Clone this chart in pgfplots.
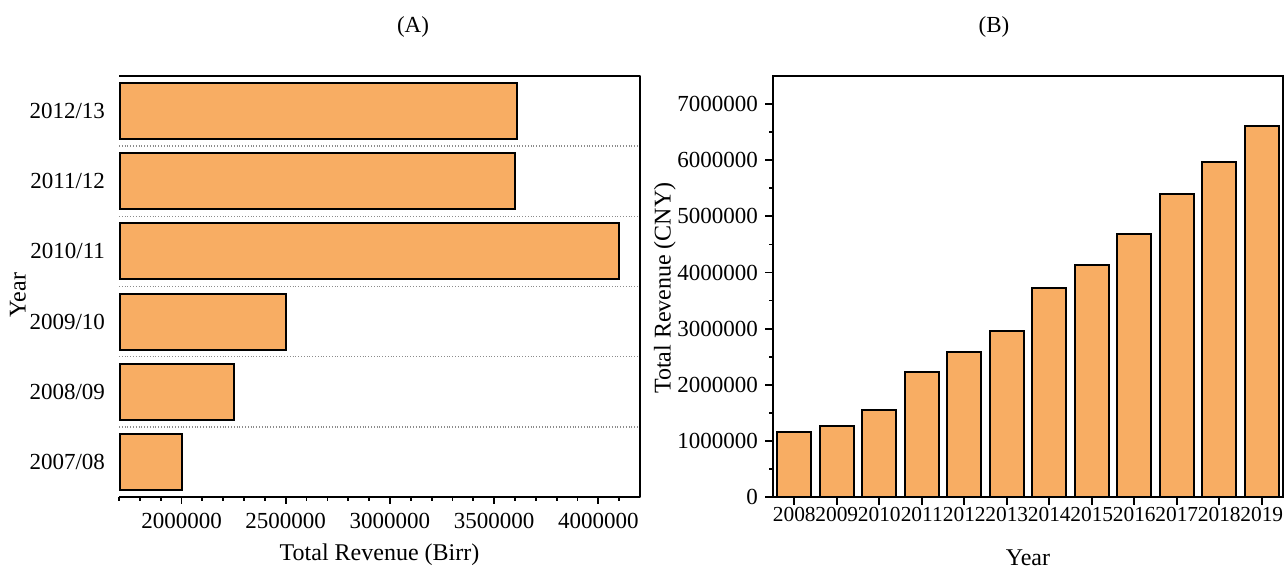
\documentclass[border=0pt]{standalone}
\usepackage{fontspec}
\setmainfont{Liberation Serif}
\usepackage{pgfplots}
\pgfplotsset{compat=1.18}
\definecolor{barorange}{RGB}{248,173,99}
\pgfplotstableread{
y  rev
0  2000000
1  2250000
2  2500000
3  4100000
4  3600000
5  3610000
}\revA
\pgfplotstableread{
year rev
2008 1150000
2009 1270000
2010 1550000
2011 2230000
2012 2580000
2013 2950000
2014 3720000
2015 4130000
2016 4690000
2017 5400000
2018 5960000
2019 6610000
}\revB
\begin{document}
\begin{tikzpicture}[x=1pt,y=1pt]
\path[use as bounding box] (0,0) rectangle (642.5,286);
\node[font=\fontsize{11.5}{13}\selectfont] at (206.5,272.5) {(A)};
\node[font=\fontsize{11.5}{13}\selectfont] at (497,272.5) {(B)};
\begin{axis}[
  at={(59.5pt,37.5pt)}, anchor=south west,
  scale only axis, width=260.5pt, height=210.5pt,
  xmin=1700000, xmax=4200000,
  ymin=-0.5, ymax=5.5,
  axis line style={draw=none},
  tick align=outside,
  xtick pos=bottom, ytick pos=left,
  major tick length=3.5pt, minor tick length=2pt,
  xtick={2000000,2500000,3000000,3500000,4000000},
  minor xtick={1700000,1800000,1900000,2100000,2200000,2300000,2400000,2600000,2700000,2800000,2900000,3100000,3200000,3300000,3400000,3600000,3700000,3800000,3900000,4100000},
  scaled x ticks=false,
  x tick label style={/pgf/number format/fixed, /pgf/number format/1000 sep={}, yshift=-1pt},
  /pgf/number format/assume math mode=true,
  tick label style={font=\fontsize{11.5}{13}\selectfont},
  xtick style={black, line width=0.9pt},
  ytick={0,1,2,3,4,5},
  yticklabels={2007/08,2008/09,2009/10,2010/11,2011/12,2012/13},
  ytick style={draw=none},
  minor ytick={0.5,1.5,2.5,3.5,4.5},
  yminorgrids=true,
  minor y grid style={densely dotted, black!45, line width=0.8pt},
  xlabel={Total Revenue (Birr)},
  ylabel={Year},
  label style={font=\fontsize{12}{14}\selectfont},
  xlabel style={at={(axis description cs:0.5,-0.138)}, anchor=center},
  ylabel style={at={(axis description cs:-0.194,0.48)}, anchor=center},
]
\addplot[xbar, bar width=0.8, fill=barorange, draw=black, line width=1pt] table[x=rev, y=y] {\revA};
\addplot[draw=none, mark=none, error bars/.cd, y dir=both, y fixed=0.4, error mark=none,
  error bar style={draw=black, line width=2pt}] coordinates {(1700000,0) (1700000,1) (1700000,2) (1700000,3) (1700000,4) (1700000,5)};
\end{axis}
\draw[line width=1pt, line join=round] (59.5,37.5) -- (320,37.5) -- (320,248) -- (59.5,248);

\begin{axis}[
  at={(386.5pt,37.5pt)}, anchor=south west,
  scale only axis, width=255pt, height=210.5pt,
  xmin=2007.5, xmax=2019.5,
  ymin=0, ymax=7500000,
  axis line style={line width=1pt},
  tick align=outside,
  xtick pos=bottom, ytick pos=left,
  major tick length=4pt, minor tick length=2pt,
  tick style={black, line width=0.9pt},
  xtick={2008,2009,2010,2011,2012,2013,2014,2015,2016,2017,2018,2019},
  x tick label style={/pgf/number format/1000 sep={}, font=\fontsize{10.7}{12}\selectfont, yshift=2.5pt},
  ytick={0,1000000,2000000,3000000,4000000,5000000,6000000,7000000},
  minor ytick={500000,1500000,2500000,3500000,4500000,5500000,6500000},
  scaled y ticks=false,
  y tick label style={/pgf/number format/fixed, /pgf/number format/1000 sep={}, font=\fontsize{11.5}{13}\selectfont},
  /pgf/number format/assume math mode=true,
  xlabel={Year},
  ylabel={Total Revenue (CNY)},
  label style={font=\fontsize{12}{14}\selectfont},
  xlabel style={at={(axis description cs:0.5,-0.145)}, anchor=center},
  ylabel style={at={(axis description cs:-0.212,0.496)}, anchor=center},
]
\addplot[ybar, bar width=0.8, fill=barorange, draw=black, line width=1pt] table[x=year, y=rev] {\revB};
\end{axis}
\end{tikzpicture}
\end{document}
